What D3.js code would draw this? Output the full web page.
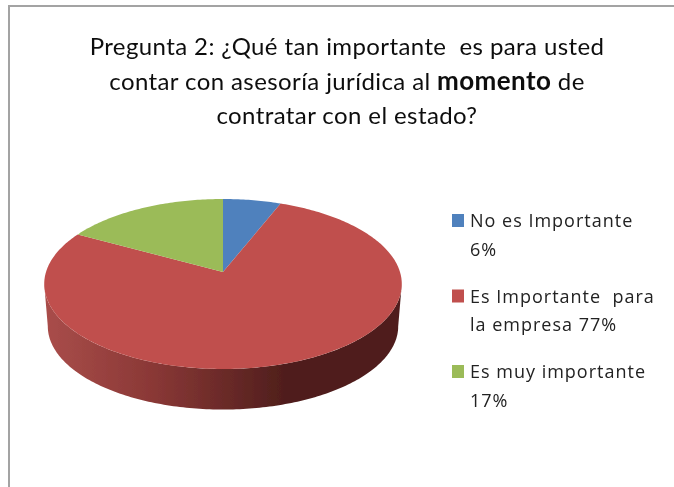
<!DOCTYPE html>
<html>
  <head>
    <meta charset="utf-8">
    <title>Pregunta 2</title>
    <style>
    html, body { margin: 0; padding: 0; background: #fff; }
    svg { display: block; }
    .title { font-family: Lato, sans-serif; font-size: 24px; letter-spacing: 0.4px; fill: #111; text-anchor: middle; }
    .legend text { font-family: "Open Sans", sans-serif; font-size: 18px; fill: #222; letter-spacing: 1px; }
    </style>
  </head>
  <body>
    <script src="https://d3js.org/d3.v7.min.js"></script>
    <script>

    // data
    var categories = ["No es Importante", "Es Importante para la empresa", "Es muy importante"];
    var values = [6, 77, 17];
    var colors = ["#4f81bd", "#c0504d", "#9bbb59"];
    var legendLines = [
      ["No es Importante", "6%"],
      ["Es Importante  para", "la empresa 77%"],
      ["Es muy importante", "17%"]
    ];
    var titleLines = [
      [["Pregunta 2: ¿Qué tan importante  es para usted", false]],
      [["contar con asesoría jurídica al ", false], ["momento", true], [" de", false]],
      [["contratar con el estado?", false]]
    ];

    var width = 674, height = 487;

    var svg = d3.select("body").append("svg")
        .attr("width", width)
        .attr("height", height);

    var defs = svg.append("defs");

    // the original is a blurry screenshot
    defs.append("filter").attr("id", "soft")
        .attr("x", "-5%").attr("y", "-5%").attr("width", "110%").attr("height", "110%")
      .append("feGaussianBlur").attr("stdDeviation", 0.45);

    var wallGrad = defs.append("linearGradient")
        .attr("id", "wall")
        .attr("gradientUnits", "userSpaceOnUse")
        .attr("x1", 46).attr("x2", 400).attr("y1", 0).attr("y2", 0);
    wallGrad.selectAll("stop")
        .data([[0, "#a94d4a"], [0.3, "#8a3836"], [0.68, "#4f1e1c"], [1, "#4f1e1c"]])
        .enter().append("stop")
        .attr("offset", function(d) { return d[0]; })
        .attr("stop-color", function(d) { return d[1]; });

    var root = svg.append("g").attr("filter", "url(#soft)");

    // frame
    root.append("path")
        .attr("d", "M9," + height + "V6H" + width)
        .attr("fill", "none")
        .attr("stroke", "#a3a3a3")
        .attr("stroke-width", 2);

    // title
    var titleY = d3.scalePoint().domain(d3.range(titleLines.length)).range([55, 124]);
    root.selectAll(".title")
        .data(titleLines)
        .enter().append("text")
        .attr("class", "title")
        .attr("x", 347)
        .attr("y", function(d, i) { return titleY(i); })
        .style("white-space", "pre")
        .selectAll("tspan")
        .data(function(d) { return d; })
        .enter().append("tspan")
        .style("font-weight", function(d) { return d[1] ? 700 : null; })
        .style("font-size", function(d) { return d[1] ? "26px" : null; })
        .text(function(d) { return d[0]; });

    // pie, tilted with a small perspective so the apex sits above the ellipse centre
    var cx = 223, apexY = 272;
    var persp = 0.141, spreadX = 177, spreadY = 83.3, depth = 42.5, wallShrink = 0.98;

    var pie = d3.pie().sort(null)
        .startAngle(0).endAngle(2 * Math.PI);
    var arcs = pie(values);

    function project(angle, r, shrink, drop) {
      var X = r * Math.sin(angle), Y = -r * Math.cos(angle);
      var w = 1 - persp * Y;
      return [cx + shrink * spreadX * X / w, apexY + drop + shrink * spreadY * Y / w];
    }

    var line = d3.line();

    function rimAngles(a0, a1) {
      var n = Math.max(2, Math.ceil((a1 - a0) * 60));
      return d3.range(n + 1).map(function(i) { return a0 + (a1 - a0) * i / n; });
    }

    function slicePath(d) {
      var pts = [project(0, 0, 1, 0)].concat(rimAngles(d.startAngle, d.endAngle).map(function(a) {
        return project(a, 1, 1, 0);
      }));
      return line(pts) + "Z";
    }

    // the wall runs between the widest points of the rim, which sit a bit nearer than the middle
    function wallPath(d) {
      var a0 = Math.max(d.startAngle, Math.PI / 2 + persp);
      var a1 = Math.min(d.endAngle, 3 * Math.PI / 2 - persp);
      if (a1 <= a0) return null;
      var rim = rimAngles(a0, a1);
      var top = rim.map(function(a) { return project(a, 1, 1, 0); });
      var bottom = rim.slice().reverse().map(function(a) { return project(a, 1, wallShrink, depth); });
      return line(top.concat(bottom)) + "Z";
    }

    root.append("g").selectAll("path")
        .data(arcs.filter(function(d) { return wallPath(d); }))
        .enter().append("path")
        .attr("d", wallPath)
        .attr("fill", "url(#wall)");

    root.append("g").selectAll("path")
        .data(arcs)
        .enter().append("path")
        .attr("d", slicePath)
        .attr("fill", function(d, i) { return colors[i]; });

    // legend
    var legendY = d3.scalePoint().domain(categories).range([227, 378]);
    var legend = root.append("g").attr("class", "legend")
        .selectAll("g")
        .data(categories)
        .enter().append("g")
        .attr("transform", function(d) { return "translate(0," + legendY(d) + ")"; });

    legend.append("rect")
        .attr("x", 452).attr("y", -13)
        .attr("width", 12).attr("height", 13)
        .attr("fill", function(d, i) { return colors[i]; });

    legend.each(function(d, i) {
      d3.select(this).selectAll("text")
          .data(legendLines[i])
          .enter().append("text")
          .attr("x", 470)
          .attr("y", function(t, j) { return j * 28.5; })
          .style("white-space", "pre")
          .text(function(t) { return t; });
    });

    </script>
  </body>
</html>
